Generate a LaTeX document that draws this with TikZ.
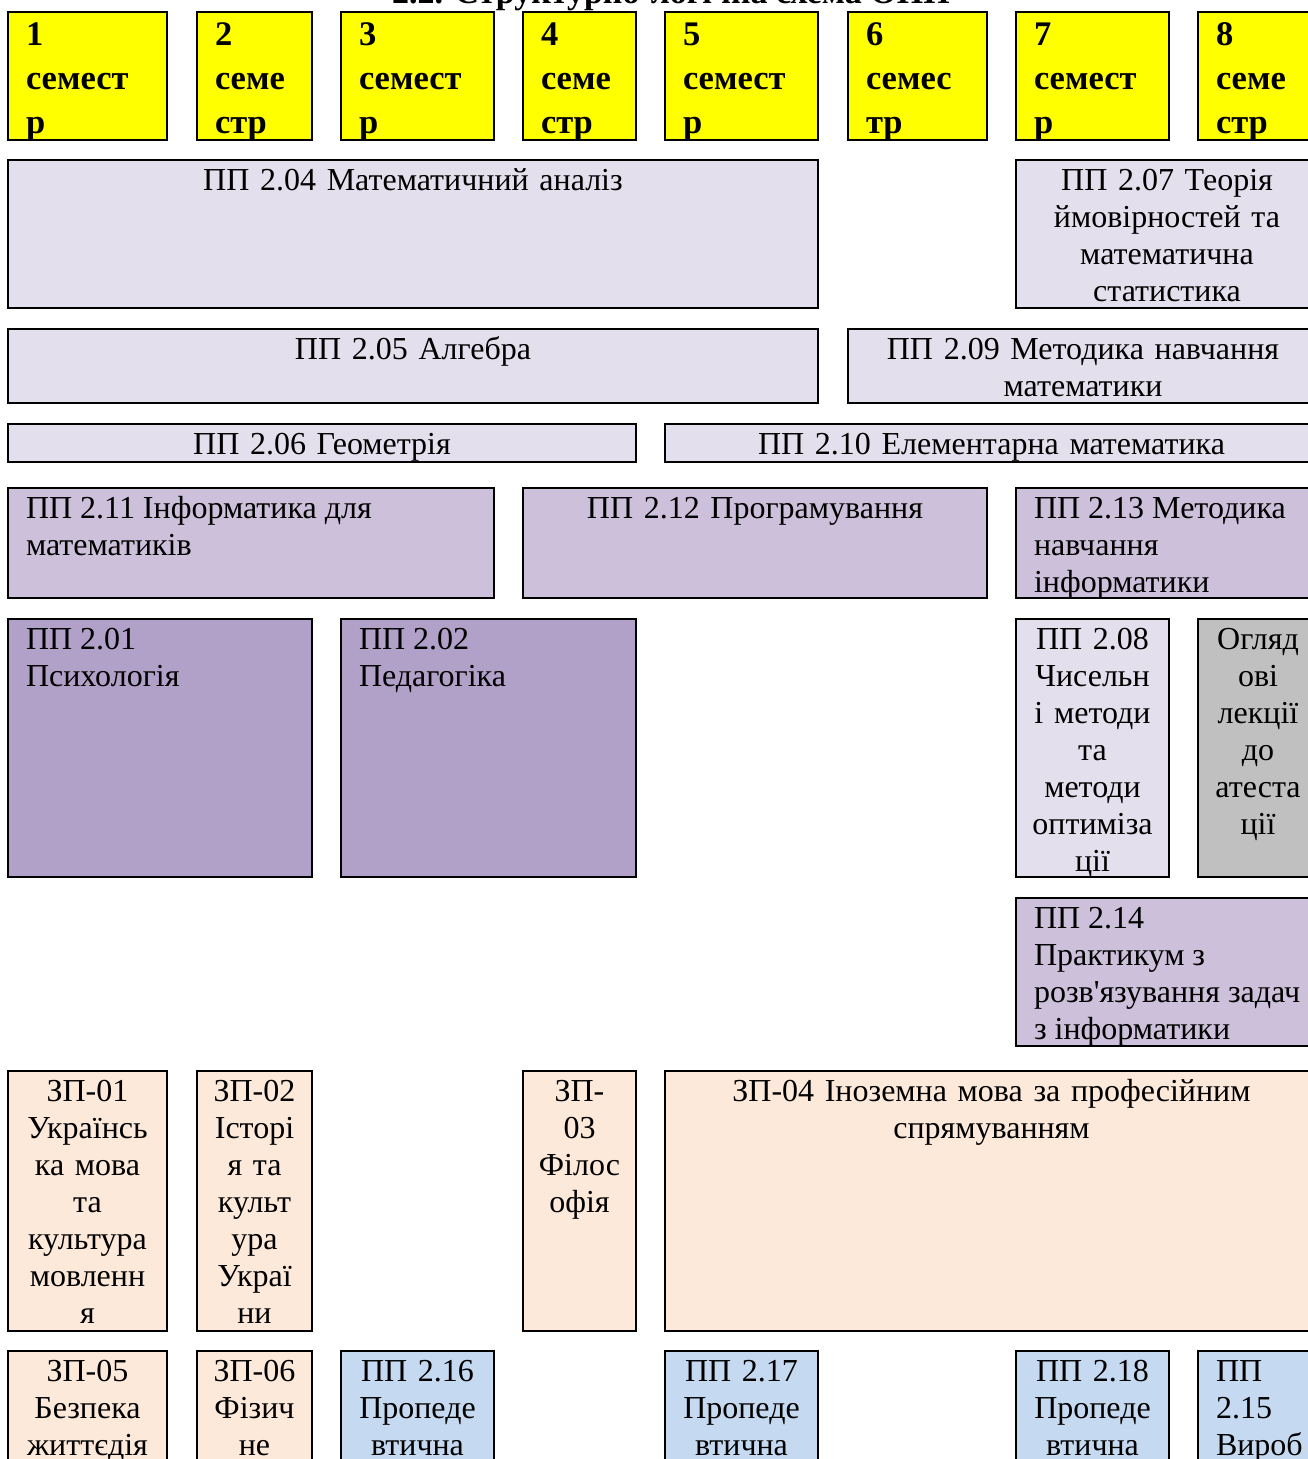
\documentclass[tikz,border=0pt]{standalone}
\usepackage{fontspec}
\setmainfont{Liberation Serif}
\usetikzlibrary{fit}
\definecolor{semyellow}{HTML}{FFFF00}
\definecolor{lavlight}{HTML}{E4DFEC}
\definecolor{lavmid}{HTML}{CCC0DA}
\definecolor{lavdark}{HTML}{B1A0C7}
\definecolor{greybox}{HTML}{C0C0C0}
\definecolor{peach}{HTML}{FDE9D9}
\definecolor{bluebox}{HTML}{C5D9F1}
\tikzset{
  cell/.style={draw=black, line width=2pt, inner sep=0pt, outer sep=0pt},
  txt/.style={inner sep=0pt, outer sep=0pt, font=\fontsize{32}{37}\selectfont},
  semtxt/.style={inner sep=0pt, outer sep=0pt, font=\bfseries\fontsize{34.5}{44}\selectfont},
  semfill/.style={fill=semyellow},
  lavL/.style={fill=lavlight},
  lavM/.style={fill=lavmid},
  lavD/.style={fill=lavdark},
  greyF/.style={fill=greybox},
  peachF/.style={fill=peach},
  blueF/.style={fill=bluebox},
}
% centred text: name, x1, y1, x2, y2, style, text
\newcommand\cellC[7]{%
  \node[cell,#6,fit={(#2,#3) (#4,#5)}] (#1) {};
  \pgfmathsetmacro\cbw{#4-#2-6}%
  \node[txt,align=center,text width=\cbw pt,anchor=north] (#1-t) at ([yshift=-4.1pt]#1.north) {\strut #7};
}
% left text
\newcommand\cellL[7]{%
  \node[cell,#6,fit={(#2,#3) (#4,#5)}] (#1) {};
  \node[txt,align=left,anchor=north west] (#1-t) at ([xshift=18pt,yshift=-4.1pt]#1.north west) {\strut #7};
}
% semester header
\newcommand\cellS[6]{%
  \node[cell,semfill,fit={(#2,#3) (#4,#5)}] (#1) {};
  \node[semtxt,align=left,anchor=north west] (#1-t) at ([xshift=18pt,yshift=-2.5pt]#1.north west) {\strut #6};
}
\begin{document}
\begin{tikzpicture}[x=1pt,y=-1pt]
\useasboundingbox (0,0) rectangle (1308,1459);
\clip (0,0) rectangle (1308,1459);
\fill[white] (0,0) rectangle (1308,1459);

\node[inner sep=0pt, anchor=base, font=\bfseries\fontsize{34}{40}\selectfont] (title) at (671,3) {2.2. Структурно-логічна схема ОПП};

% semesters
\cellS{s1}{8}{12}{167}{140}{1\\семест\\р}
\cellS{s2}{197}{12}{312}{140}{2\\семе\\стр}
\cellS{s3}{341}{12}{494}{140}{3\\семест\\р}
\cellS{s4}{523}{12}{636}{140}{4\\семе\\стр}
\cellS{s5}{665}{12}{818}{140}{5\\семест\\р}
\cellS{s6}{848}{12}{987}{140}{6\\семес\\тр}
\cellS{s7}{1016}{12}{1169}{140}{7\\семест\\р}
\cellS{s8}{1198}{12}{1318}{140}{8\\семе\\стр}

% rows
\cellC{pp204}{8}{160}{818}{308}{lavL}{ПП 2.04 Математичний аналіз}
\cellC{pp207}{1016}{160}{1318}{308}{lavL}{ПП 2.07 Теорія\\ймовірностей та\\математична\\статистика}
\cellC{pp205}{8}{329}{818}{403}{lavL}{ПП 2.05 Алгебра}
\cellC{pp209}{848}{329}{1318}{403}{lavL}{ПП 2.09 Методика навчання\\математики}
\cellC{pp206}{8}{424}{636}{462}{lavL}{ПП 2.06 Геометрія}
\cellC{pp210}{665}{424}{1318}{462}{lavL}{ПП 2.10 Елементарна математика}
\cellL{pp211}{8}{488}{494}{598}{lavM}{ПП 2.11 Інформатика для\\математиків}
\cellC{pp212}{523}{488}{987}{598}{lavM}{ПП 2.12 Програмування}
\cellL{pp213}{1016}{488}{1318}{598}{lavM}{ПП 2.13 Методика\\навчання\\інформатики}
\cellL{pp201}{8}{619}{312}{877}{lavD}{ПП 2.01\\Психологія}
\cellL{pp202}{341}{619}{636}{877}{lavD}{ПП 2.02\\Педагогіка}
\cellC{pp208}{1016}{619}{1169}{877}{lavL}{ПП 2.08\\Чисельн\\і методи\\та\\методи\\оптиміза\\ції}
\cellC{ogl}{1198}{619}{1318}{877}{greyF}{Огляд\\ові\\лекції\\до\\атеста\\ції}
\cellL{pp214}{1016}{898}{1318}{1046}{lavM}{ПП 2.14\\Практикум з\\розв\textquotesingle язування задач\\з інформатики}

\cellC{zp01}{8}{1071}{167}{1331}{peachF}{ЗП-01\\Українсь\\ка мова\\та\\культура\\мовленн\\я}
\cellC{zp02}{197}{1071}{312}{1331}{peachF}{ЗП-02\\Історі\\я та\\культ\\ура\\Украї\\ни}
\cellC{zp03}{523}{1071}{636}{1331}{peachF}{ЗП-\\03\\Філос\\офія}
\cellC{zp04}{665}{1071}{1318}{1331}{peachF}{ЗП-04 Іноземна мова за професійним\\спрямуванням}

\cellC{zp05}{8}{1351}{167}{1600}{peachF}{ЗП-05\\Безпека\\життєдія}
\cellC{zp06}{197}{1351}{312}{1600}{peachF}{ЗП-06\\Фізич\\не}
\cellC{pp216}{341}{1351}{494}{1600}{blueF}{ПП 2.16\\Пропеде\\втична}
\cellC{pp217}{665}{1351}{818}{1600}{blueF}{ПП 2.17\\Пропеде\\втична}
\cellC{pp218}{1016}{1351}{1169}{1600}{blueF}{ПП 2.18\\Пропеде\\втична}
\cellL{pp215}{1198}{1351}{1318}{1600}{blueF}{ПП\\2.15\\Вироб}
\end{tikzpicture}
\end{document}
